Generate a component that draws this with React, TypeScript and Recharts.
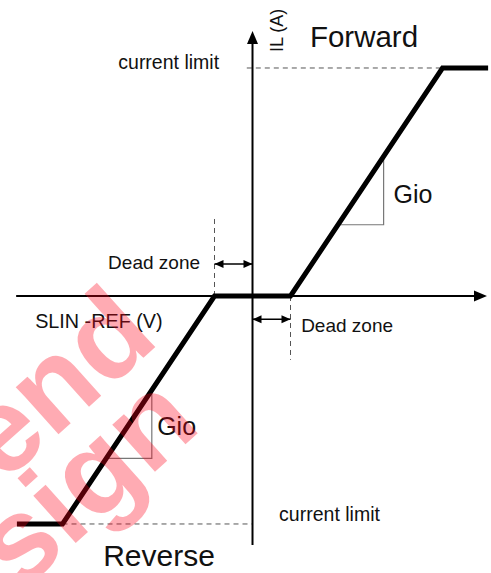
import React from 'react';
import { ComposedChart, Line, Scatter, XAxis, YAxis } from 'recharts';

// Schematic units: V = SLIN-REF (dead zone = 1), I = IL (current limit = 4)
const curveV = [-6.2, -5, -1, 1, 5, 6.2];
const curveI = [-4, -4, 0, 0, 4, 4];
const transferCurve = curveV.map((v, k) => ({ v, i: curveI[k] }));

const xAxisLine = [{ v: -6.22, i: 0 }, { v: 6.0, i: 0 }];
const yAxisLine = [{ v: 0, i: -4.37 }, { v: 0, i: 4.45 }];

const limitDashTop = [{ v: -0.15, i: 4 }, { v: 5, i: 4 }];
const limitDashBottom = [{ v: -5, i: -4 }, { v: 0, i: -4 }];
const deadDashLeft = [{ v: -1, i: 0 }, { v: -1, i: 1.37 }];
const deadDashRight = [{ v: 1, i: 0 }, { v: 1, i: -1.12 }];

const gioUpper = [{ v: 2.25, i: 1.25 }, { v: 3.45, i: 1.25 }, { v: 3.45, i: 2.45 }];
const gioLower = [{ v: -3.85, i: -2.85 }, { v: -2.65, i: -2.85 }, { v: -2.65, i: -1.65 }];

const deadArrowUpper = [{ v: -1, i: 0.56 }, { v: 0, i: 0.56 }];
const deadArrowLower = [{ v: 0, i: -0.41 }, { v: 1, i: -0.41 }];

const arrowHeads = [
  { v: 6.17, i: 0, dir: 'right', kind: 'axis' },
  { v: 0, i: 4.65, dir: 'up', kind: 'axis' },
  { v: -1, i: 0.56, dir: 'left', kind: 'small' },
  { v: 0, i: 0.56, dir: 'right', kind: 'small' },
  { v: 0, i: -0.41, dir: 'left', kind: 'small' },
  { v: 1, i: -0.41, dir: 'right', kind: 'small' },
];

const labels = [
  { key: 'forward', text: 'Forward', v: 1.51, i: 4.37 },
  { key: 'limitTop', text: 'current limit', v: -0.88, i: 3.98 },
  { key: 'ilAxis', text: 'IL (A)', v: 0.8, i: 4.28 },
  { key: 'gioUpper', text: 'Gio', v: 3.71, i: 1.63 },
  { key: 'gioLower', text: 'Gio', v: -2.51, i: -2.44 },
  { key: 'deadLeft', text: 'Dead zone', v: -3.8, i: 0.47 },
  { key: 'slin', text: 'SLIN -REF (V)', v: -5.72, i: -0.56 },
  { key: 'deadRight', text: 'Dead zone', v: 1.28, i: -0.64 },
  { key: 'limitBottom', text: 'current limit', v: 0.7, i: -3.94 },
  { key: 'reverse', text: 'Reverse', v: -3.93, i: -4.74 },
];

const watermark = [
  { key: 'wm1', text: 'end', v: -2.4, i: -0.8 },
  { key: 'wm2', text: 'sign', v: -1.3, i: -2.32 },
];

const V_DOMAIN: [number, number] = [-6.645, 6.276];
const I_DOMAIN: [number, number] = [-4.86, 5.193];

const FONT = '"Liberation Sans", Arial, Helvetica, sans-serif';

const labelStyle: Record<string, { size: number; anchor: 'start' | 'end'; rotate?: number }> = {
  forward: { size: 29.5, anchor: 'start' },
  limitTop: { size: 19.5, anchor: 'end' },
  ilAxis: { size: 18, anchor: 'start', rotate: -90 },
  gioUpper: { size: 25, anchor: 'start' },
  gioLower: { size: 25, anchor: 'start' },
  deadLeft: { size: 19, anchor: 'start' },
  slin: { size: 19.8, anchor: 'start' },
  deadRight: { size: 19, anchor: 'start' },
  limitBottom: { size: 19.5, anchor: 'start' },
  reverse: { size: 30, anchor: 'start' },
};

const ArrowHead = (props: any) => {
  const { cx, cy } = props;
  const p = props.payload || props;
  const big = p.kind === 'axis';
  const L = big ? 13 : 9;
  const W = big ? 5.5 : 4;
  let pts = '';
  if (p.dir === 'right') pts = `${cx},${cy} ${cx - L},${cy - W} ${cx - L},${cy + W}`;
  else if (p.dir === 'left') pts = `${cx},${cy} ${cx + L},${cy - W} ${cx + L},${cy + W}`;
  else if (p.dir === 'up') pts = `${cx},${cy} ${cx - W},${cy + L} ${cx + W},${cy + L}`;
  else pts = `${cx},${cy} ${cx - W},${cy - L} ${cx + W},${cy - L}`;
  return <polygon points={pts} fill="#000" />;
};

const LabelText = (props: any) => {
  const { cx, cy } = props;
  const p = props.payload || props;
  const st = labelStyle[p.key];
  return (
    <text
      x={cx}
      y={cy}
      fontFamily={FONT}
      fontSize={st.size}
      fill="#111"
      textAnchor={st.anchor}
      transform={st.rotate ? `rotate(${st.rotate} ${cx} ${cy})` : undefined}
    >
      {p.text}
    </text>
  );
};

const WatermarkText = (props: any) => {
  const { cx, cy } = props;
  const p = props.payload || props;
  return (
    <text
      x={cx}
      y={cy}
      fontFamily={FONT}
      fontWeight="bold"
      fontSize={120}
      fill="#ff0018"
      fillOpacity={0.33}
      textAnchor="end"
      transform={`rotate(-42 ${cx} ${cy})`}
    >
      {p.text}
    </text>
  );
};

const dashed = { stroke: '#555', strokeWidth: 1, strokeDasharray: '5 4' };

export default function App() {
  return (
    <div style={{ position: 'absolute', left: 0, top: 0, width: 491, height: 573, background: '#fff', overflow: 'hidden' }}>
      <ComposedChart width={491} height={573} margin={{ top: 0, right: 0, bottom: 0, left: 0 }}>
        <XAxis type="number" dataKey="v" domain={V_DOMAIN} allowDataOverflow hide />
        <YAxis type="number" dataKey="i" domain={I_DOMAIN} allowDataOverflow hide />

        <Line data={limitDashTop} dataKey="i" dot={false} activeDot={false} isAnimationActive={false} {...dashed} />
        <Line data={limitDashBottom} dataKey="i" dot={false} activeDot={false} isAnimationActive={false} {...dashed} />
        <Line data={deadDashLeft} dataKey="i" dot={false} activeDot={false} isAnimationActive={false} {...dashed} />
        <Line data={deadDashRight} dataKey="i" dot={false} activeDot={false} isAnimationActive={false} {...dashed} />

        <Line data={gioUpper} dataKey="i" dot={false} activeDot={false} isAnimationActive={false} stroke="#777" strokeWidth={1.2} />
        <Line data={gioLower} dataKey="i" dot={false} activeDot={false} isAnimationActive={false} stroke="#777" strokeWidth={1.2} />

        <Line data={xAxisLine} dataKey="i" dot={false} activeDot={false} isAnimationActive={false} stroke="#000" strokeWidth={2} />
        <Line data={yAxisLine} dataKey="i" dot={false} activeDot={false} isAnimationActive={false} stroke="#000" strokeWidth={2} />

        <Line data={deadArrowUpper} dataKey="i" dot={false} activeDot={false} isAnimationActive={false} stroke="#000" strokeWidth={1.5} />
        <Line data={deadArrowLower} dataKey="i" dot={false} activeDot={false} isAnimationActive={false} stroke="#000" strokeWidth={1.5} />

        <Line data={transferCurve} dataKey="i" dot={false} activeDot={false} isAnimationActive={false} stroke="#000" strokeWidth={5} strokeLinejoin="miter" strokeLinecap="butt" />

        <Scatter data={arrowHeads} dataKey="i" isAnimationActive={false} shape={ArrowHead} />
        <Scatter data={labels} dataKey="i" isAnimationActive={false} shape={LabelText} />
        <Scatter data={watermark} dataKey="i" isAnimationActive={false} shape={WatermarkText} />
      </ComposedChart>
    </div>
  );
}
